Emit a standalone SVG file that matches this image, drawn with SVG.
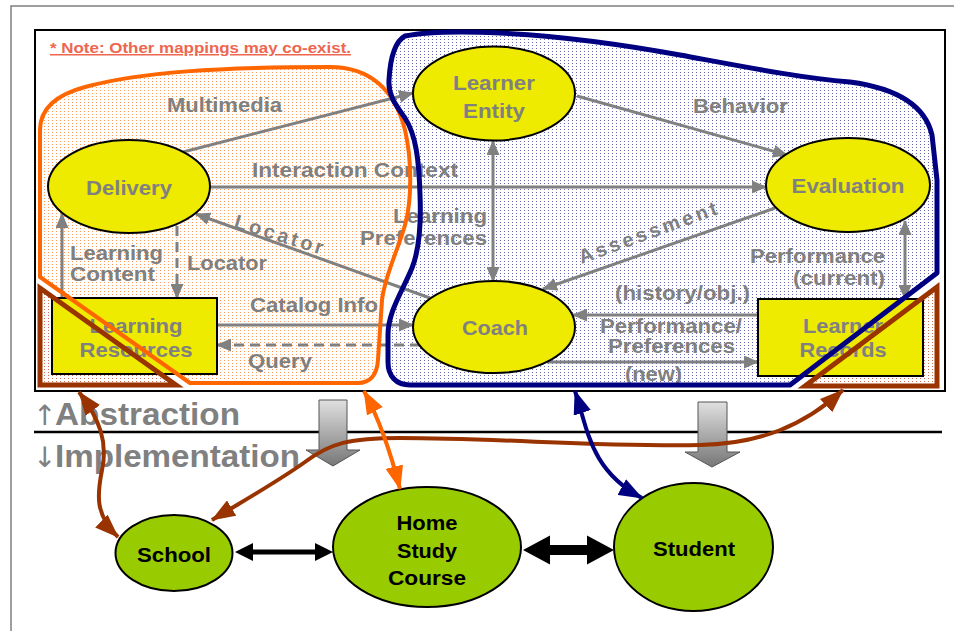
<svg xmlns="http://www.w3.org/2000/svg" width="954" height="631" viewBox="0 0 954 631">
<style>
.lbl{font-family:"Liberation Sans",Arial,"DejaVu Sans",sans-serif;font-weight:bold;fill:#808080;font-size:20px}
.big{font-family:"Liberation Sans",Arial,"DejaVu Sans",sans-serif;font-weight:bold;fill:#808080;font-size:31px}
.arw{font-family:"DejaVu Sans","Liberation Sans",sans-serif;fill:#808080;font-size:28px}
.blk{font-family:"Liberation Sans",Arial,"DejaVu Sans",sans-serif;font-weight:bold;fill:#000;font-size:20px}
.nd{fill:#EEEA00;stroke:#000;stroke-width:2}
.gn{fill:#99CC00;stroke:#000;stroke-width:2}
.ga{stroke:#808080;stroke-width:3;fill:none;marker-end:url(#ag)}
.gb{marker-start:url(#ag)}
.dash{stroke-dasharray:10 6}
.cb{stroke:#993300;stroke-width:4;fill:none;marker-start:url(#ab);marker-end:url(#ab)}
.co{stroke:#FF6600;stroke-width:4;fill:none;marker-start:url(#ao);marker-end:url(#ao)}
.cn{stroke:#000080;stroke-width:4;fill:none;marker-start:url(#an);marker-end:url(#an)}
.blkarr{fill:url(#gg);stroke:#555;stroke-width:1}
</style>
<defs>
<pattern id="po" patternUnits="userSpaceOnUse" width="4" height="3"><rect width="4" height="3" fill="#fff"/><rect width="1" height="1" fill="#FF9955"/></pattern>
<pattern id="pn" patternUnits="userSpaceOnUse" width="4" height="3"><rect width="4" height="3" fill="#fff"/><rect width="1" height="1" fill="#6868B0"/></pattern>
<pattern id="pb" patternUnits="userSpaceOnUse" width="4" height="3"><rect width="4" height="3" fill="#fff"/><rect width="1" height="1" fill="#D07050"/></pattern>
<linearGradient id="gg" x1="0" y1="0" x2="0" y2="1"><stop offset="0" stop-color="#E0E0E0"/><stop offset="1" stop-color="#777"/></linearGradient>
<marker id="ag" markerUnits="userSpaceOnUse" viewBox="0 0 15 13" markerWidth="15" markerHeight="13" refX="14" refY="6.5" orient="auto-start-reverse"><path d="M0,0L15,6.5L0,13z" fill="#808080"/></marker>
<marker id="ab" markerUnits="userSpaceOnUse" viewBox="0 0 24 18" markerWidth="24" markerHeight="18" refX="23" refY="9" orient="auto-start-reverse"><path d="M0,0L24,9L0,18z" fill="#993300"/></marker>
<marker id="ao" markerUnits="userSpaceOnUse" viewBox="0 0 24 18" markerWidth="24" markerHeight="18" refX="23" refY="9" orient="auto-start-reverse"><path d="M0,0L24,9L0,18z" fill="#FF6600"/></marker>
<marker id="an" markerUnits="userSpaceOnUse" viewBox="0 0 24 18" markerWidth="24" markerHeight="18" refX="23" refY="9" orient="auto-start-reverse"><path d="M0,0L24,9L0,18z" fill="#000080"/></marker>
</defs>
<rect width="954" height="631" fill="#fff"/>
<path d="M11,631 L11,6 L954,6" stroke="#808080" stroke-width="1.5" fill="none"/>
<rect x="35" y="30" width="910" height="361" fill="#fff" stroke="#000" stroke-width="2"/>
<g id="region-fills">
<path d="M40,288 L40,385 L176,385 Z" fill="url(#pb)"/>
<path d="M937,287 L937,386 L805,386 Z" fill="url(#pb)"/>
<path id="orange-fill" d="M40,277 L40,130 C40,110 55,95 85,87 C140,72 220,67 330,67 C370,67 395,90 405,130 C412,160 412,200 405,225 C398,250 385,275 382,300 L378,360 C377,375 370,383 358,383 L190,383 Z" fill="url(#po)"/>
<path id="blue-fill" d="M405,36 C430,31 460,31 500,33 C560,36 620,44 680,55 C740,66 800,78 850,82 C895,88 925,105 932,135 L937,180 L937,273 L790,385 L410,385 C396,385 388,376 388,362 L388,335 C388,312 402,292 412,268 C420,248 421,220 420,195 C419,160 416,135 405,118 C395,104 388,95 389,80 C390,62 394,42 405,36 Z" fill="url(#pn)"/>
</g>
<text x="50" y="53" font-family="Liberation Sans,Arial,sans-serif" font-weight="bold" font-size="15" fill="#EE6650" text-decoration="underline" textLength="301" lengthAdjust="spacingAndGlyphs">* Note: Other mappings may co-exist.</text>
<g id="connectors">
<line class="ga" x1="183" y1="152" x2="413" y2="93"/>
<line class="ga" x1="577" y1="96" x2="787" y2="155"/>
<line class="ga" x1="210" y1="187" x2="766" y2="187"/>
<line class="ga gb" x1="493" y1="141" x2="493" y2="281"/>
<line class="ga" x1="775" y1="208" x2="543" y2="289"/>
<line class="ga" x1="430" y1="298" x2="196" y2="214"/>
<line class="ga" x1="758" y1="315" x2="573" y2="315"/>
<line class="ga" x1="547" y1="362" x2="758" y2="362"/>
<line class="ga gb" x1="905" y1="221" x2="905" y2="299"/>
<line class="ga" x1="62" y1="298" x2="62" y2="214"/>
<line class="ga dash" x1="177" y1="226" x2="177" y2="298"/>
<line class="ga" x1="217" y1="325" x2="413" y2="325"/>
<line class="ga dash" x1="420" y1="345" x2="217" y2="345"/>
</g>
<g id="labels">
<text class="lbl" x="167" y="112" textLength="115" lengthAdjust="spacingAndGlyphs">Multimedia</text>
<text class="lbl" x="252" y="177" textLength="206" lengthAdjust="spacingAndGlyphs">Interaction Context</text>
<text class="lbl" x="693" y="113" textLength="95" lengthAdjust="spacingAndGlyphs">Behavior</text>
<text class="lbl" x="70" y="260" textLength="93" lengthAdjust="spacingAndGlyphs">Learning</text>
<text class="lbl" x="70" y="281" textLength="85" lengthAdjust="spacingAndGlyphs">Content</text>
<text class="lbl" x="187" y="270" textLength="80" lengthAdjust="spacingAndGlyphs">Locator</text>
<text class="lbl" x="250" y="312" textLength="128" lengthAdjust="spacingAndGlyphs">Catalog Info</text>
<text class="lbl" x="248" y="368" textLength="64" lengthAdjust="spacingAndGlyphs">Query</text>
<text class="lbl" x="487" y="223" text-anchor="end" textLength="94" lengthAdjust="spacingAndGlyphs">Learning</text>
<text class="lbl" x="487" y="245" text-anchor="end" textLength="127" lengthAdjust="spacingAndGlyphs">Preferences</text>
<text class="lbl" x="885" y="263" text-anchor="end" textLength="135" lengthAdjust="spacingAndGlyphs">Performance</text>
<text class="lbl" x="885" y="285" text-anchor="end" textLength="92" lengthAdjust="spacingAndGlyphs">(current)</text>
<text class="lbl" x="615" y="300" textLength="135" lengthAdjust="spacingAndGlyphs">(history/obj.)</text>
<text class="lbl" x="600" y="333" textLength="142" lengthAdjust="spacingAndGlyphs">Performance/</text>
<text class="lbl" x="608" y="353" textLength="127" lengthAdjust="spacingAndGlyphs">Preferences</text>
<text class="lbl" x="625" y="381" textLength="57" lengthAdjust="spacingAndGlyphs">(new)</text>
<text class="lbl" transform="translate(277,241) rotate(17)" text-anchor="middle" font-size="21" textLength="92" lengthAdjust="spacing">Locator</text>
<text class="lbl" transform="translate(650,239) rotate(-20)" text-anchor="middle" font-size="21" textLength="146" lengthAdjust="spacing">Assessment</text>
</g>
<g id="learner-entity"><ellipse class="nd" cx="494" cy="93.5" rx="81" ry="47"/><text class="lbl" x="494" y="90" text-anchor="middle" textLength="82" lengthAdjust="spacingAndGlyphs">Learner</text><text class="lbl" x="494" y="118" text-anchor="middle" textLength="62" lengthAdjust="spacingAndGlyphs">Entity</text></g>
<g id="delivery"><ellipse class="nd" cx="129" cy="186.5" rx="81" ry="46.5"/><text class="lbl" x="129" y="195" text-anchor="middle" textLength="86" lengthAdjust="spacingAndGlyphs">Delivery</text></g>
<g id="evaluation"><ellipse class="nd" cx="848" cy="185" rx="82" ry="47"/><text class="lbl" x="848" y="193" text-anchor="middle" textLength="113" lengthAdjust="spacingAndGlyphs">Evaluation</text></g>
<g id="coach"><ellipse class="nd" cx="494" cy="327" rx="81" ry="46"/><text class="lbl" x="495" y="335" text-anchor="middle" textLength="66" lengthAdjust="spacingAndGlyphs">Coach</text></g>
<g id="learning-resources"><rect class="nd" x="52" y="298" width="165" height="76"/><text class="lbl" x="136" y="333" text-anchor="middle" textLength="93" lengthAdjust="spacingAndGlyphs">Learning</text><text class="lbl" x="136" y="357" text-anchor="middle" textLength="113" lengthAdjust="spacingAndGlyphs">Resources</text></g>
<g id="learner-records"><rect class="nd" x="758" y="299" width="165" height="77"/><text class="lbl" x="843" y="333" text-anchor="middle" textLength="80" lengthAdjust="spacingAndGlyphs">Learner</text><text class="lbl" x="843" y="357" text-anchor="middle" textLength="87" lengthAdjust="spacingAndGlyphs">Records</text></g>
<g id="region-outlines">
<path d="M40,277 L40,130 C40,110 55,95 85,87 C140,72 220,67 330,67 C370,67 395,90 405,130 C412,160 412,200 405,225 C398,250 385,275 382,300 L378,360 C377,375 370,383 358,383 L190,383 Z" fill="none" stroke="#FF6600" stroke-width="4" stroke-linejoin="round"/>
<path d="M405,36 C430,31 460,31 500,33 C560,36 620,44 680,55 C740,66 800,78 850,82 C895,88 925,105 932,135 L937,180 L937,273 L790,385 L410,385 C396,385 388,376 388,362 L388,335 C388,312 402,292 412,268 C420,248 421,220 420,195 C419,160 416,135 405,118 C395,104 388,95 389,80 C390,62 394,42 405,36 Z" fill="none" stroke="#000080" stroke-width="5" stroke-linejoin="round"/>
<path d="M40,288 L40,385 L176,385 Z" fill="none" stroke="#993300" stroke-width="5"/>
<path d="M937,287 L937,386 L805,386 Z" fill="none" stroke="#993300" stroke-width="5"/>
</g>
<line x1="34" y1="432" x2="942" y2="432" stroke="#000" stroke-width="2.5"/>
<text class="arw" x="33" y="425">↑</text>
<text class="big" x="55" y="425" textLength="185" lengthAdjust="spacingAndGlyphs">Abstraction</text>
<text class="arw" x="33" y="467">↓</text>
<text class="big" x="55" y="467" textLength="245" lengthAdjust="spacingAndGlyphs">Implementation</text>
<path class="blkarr" d="M319,400 L347,400 L347,450 L360,450 L333,466 L306,450 L319,450 Z"/>
<path class="blkarr" d="M698,402 L727,402 L727,452 L740,452 L712,467 L685,452 L698,452 Z"/>
<g id="school"><ellipse class="gn" cx="174" cy="553" rx="58.5" ry="38"/><text class="blk" x="174" y="562" text-anchor="middle" textLength="74" lengthAdjust="spacingAndGlyphs">School</text></g>
<g id="home-study-course"><ellipse class="gn" cx="427" cy="547" rx="94" ry="60"/><text class="blk" x="427" y="530" text-anchor="middle" textLength="61" lengthAdjust="spacingAndGlyphs">Home</text><text class="blk" x="427" y="558" text-anchor="middle" textLength="60" lengthAdjust="spacingAndGlyphs">Study</text><text class="blk" x="427" y="585" text-anchor="middle" textLength="78" lengthAdjust="spacingAndGlyphs">Course</text></g>
<g id="student"><ellipse class="gn" cx="693.5" cy="547" rx="79.5" ry="64"/><text class="blk" x="694" y="556" text-anchor="middle" textLength="82" lengthAdjust="spacingAndGlyphs">Student</text></g>
<g id="mapping-connectors">
<path d="M235,552 L253,543 L253,549.5 L315,549.5 L315,543 L333,552 L315,561 L315,554.5 L253,554.5 L253,561 Z" fill="#000"/>
<path d="M523,550 L550,535.5 L550,545 L587,545 L587,535.5 L614,550 L587,564.5 L587,555 L550,555 L550,564.5 Z" fill="#000"/>
<path class="cb" d="M79,392 C100,420 108,442 102,470 C97,495 95,515 118,537"/>
<path class="cb" d="M212,520 C250,497 280,480 305,462 C330,443 350,438 400,438 C500,438 600,447 700,445 C760,444 805,425 843,390"/>
<path class="co" d="M364,391 Q385,430 400,489"/>
<path class="cn" d="M575,391 C588,430 590,470 642,498"/>
</g>
</svg>
